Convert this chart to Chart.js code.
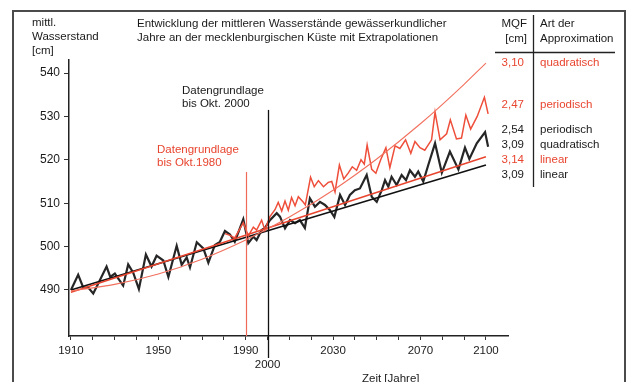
<!DOCTYPE html>
<html><head><meta charset="utf-8">
<script src="https://cdn.jsdelivr.net/npm/chart.js@4/dist/chart.umd.min.js"></script>
<style>html,body{margin:0;padding:0;background:#fff;overflow:hidden}</style>
</head><body>
<canvas id="c" width="635" height="382"></canvas>
<script>
// ---- data ----
const blackYears = [1910,1913.3,1915.6,1918,1920.2,1923,1926.3,1928,1930.1,1933.9,1936.2,1938.5,1941.1,1944.3,1946.9,1949.2,1952.3,1954.6,1958.4,1960.7,1963,1964.5,1967.6,1970.6,1972.9,1975.9,1978.2,1980.5,1982.8,1985,1988.9,1991.2,1993.5,1995,1997.3,1998.8,2001.1,2004.2,2005.7,2008,2010.3,2012.6,2014.8,2017.1,2019.4,2021.7,2024,2026.3,2028.6,2030.6,2033.2,2035.5,2037.7,2040,2042.3,2045.4,2047.7,2050,2052.3,2053.8,2055.3,2056.8,2059.1,2061.4,2063.4,2065.2,2067.5,2069,2071.3,2073.6,2076.7,2079.8,2083.5,2087.4,2090.4,2092.4,2095.8,2099.6,2101];
const blackValues = [490,493.5,490.6,490.5,489.2,492,495.4,493,493.8,491,495.9,494,490.2,498.2,495.4,497.9,496.8,493,500.2,495.8,497.5,495.2,501,499.6,496.3,500.4,501.1,503.6,502.8,501.1,506.3,500.8,502.3,501.5,503.8,504.3,506.1,507.7,506.9,504.2,506.1,505.4,506.1,504.3,511.1,509.2,510.3,509.6,508.4,506.8,511.9,509.6,511.9,513,513.4,516.5,511.5,510.3,513,515.3,513.8,516.1,514.2,516.5,515.3,517.6,516.1,517.3,515,518.8,523.8,517,521.9,517.8,522.8,520.2,523.8,526.4,523];

const redYears = [1980.5,1982.8,1985,1988.9,1991.2,1993.5,1995,1997.3,1998.8,2001.1,2003.4,2004.9,2006.5,2008,2009.5,2011,2012.6,2014.1,2016.4,2017.3,2019.7,2021.4,2023.3,2025.6,2027.8,2029.4,2030.9,2032.9,2034.9,2037,2038.8,2040.8,2042.8,2044.3,2045.6,2047.7,2049.6,2051.8,2054.2,2056,2058.4,2060.6,2063.2,2065.6,2067.5,2069.8,2072,2075.1,2076.7,2079,2082,2083.7,2086.5,2088.8,2090.8,2093,2096,2099.3,2101];
const redValues = [503,502.6,502,505.5,502.5,504.5,503.8,506.1,503.8,506.9,508.5,510.2,508.2,510.5,508.4,511.3,509.4,511.5,510.2,509.6,516,513.8,515.2,513.8,514.8,515,512.6,518.8,515.6,517,518.4,517.6,520,519,523.4,517.8,516.9,520,522.8,518.2,523.2,522.6,524.6,521.5,524.2,522.8,522.2,524.6,531,524.6,526,529.2,524.8,525,530.3,527.1,530,534.4,530.6];

const quadYears = [1910,1930,1950,1970,1990,2010,2030,2050,2070,2090,2100];
const quadValues = [489.8,491.3,493.7,497.1,501.5,506.8,513.0,520.2,528.3,537.4,542.3];

const redLinYears = [1910,2100];
const redLinValues = [489.5,520.7];
const blackLinYears = [1910,2100];
const blackLinValues = [490,518.8];

const xTickYears = [1910,1920,1930,1940,1950,1960,1970,1980,1990,2000,2010,2020,2030,2040,2050,2060,2070,2080,2090,2100];
const xTickLabels = [1910,1950,1990,2030,2070,2100];
const xLowLabels = [2000];
const yTicks = [490,500,510,520,530,540];

const titleLines = ['Entwicklung der mittleren Wasserstände gewässerkundlicher','Jahre an der mecklenburgischen Küste mit Extrapolationen'];
const yTitleLines = ['mittl.','Wasserstand','[cm]'];
const xTitle = 'Zeit [Jahre]';
const legendHeadMQF = ['MQF','[cm]'];
const legendHeadArt = ['Art der','Approximation'];
const legendMQF = ['3,10','2,47','2,54','3,09','3,14','3,09'];
const legendArt = ['quadratisch','periodisch','periodisch','quadratisch','linear','linear'];
const legendIsRed = [true,true,false,false,true,false];
const note2000 = ['Datengrundlage','bis Okt. 2000'];
const note1980 = ['Datengrundlage','bis Okt.1980'];
const cutYears = [1990, 2000];

// ---- styles / layout ----
const RED = '#e8452f';
const FONT = '"Liberation Sans", Arial, sans-serif';
const legendRowY = [63,105,130,145,160,175];

const pts = (xs, ys) => xs.map((x, i) => ({x: x, y: ys[i]}));

const decor = {
  id: 'decor',
  beforeDraw(chart) {
    const c = chart.ctx;
    c.save();
    c.fillStyle = '#fff';
    c.fillRect(0, 0, chart.width, chart.height);
    c.restore();
  },
  afterDatasetsDraw(chart) {
    const c = chart.ctx, xs = chart.scales.x, ys = chart.scales.y, a = chart.chartArea;
    c.save();
    const xr = Math.round(xs.getPixelForValue(cutYears[0])) + 0.5;
    c.strokeStyle = '#f06a5a'; c.lineWidth = 1.2;
    c.beginPath(); c.moveTo(xr, ys.getPixelForValue(517.2)); c.lineTo(xr, a.bottom); c.stroke();
    const xb = Math.round(xs.getPixelForValue(cutYears[1])) + 0.5;
    c.strokeStyle = '#111'; c.lineWidth = 1.3;
    c.beginPath(); c.moveTo(xb, ys.getPixelForValue(531.5)); c.lineTo(xb, a.bottom + 22); c.stroke();
    c.restore();
  },
  afterDraw(chart) {
    const c = chart.ctx;
    c.save();
    c.strokeStyle = '#4b4b4b'; c.lineWidth = 2;
    c.strokeRect(13, 11, 612, 400);
    c.textBaseline = 'middle';
    c.font = '11.5px ' + FONT;
    c.fillStyle = '#1a1a1a';
    c.textAlign = 'left';
    titleLines.forEach((t, i) => c.fillText(t, 137, 24 + i * 14));
    yTitleLines.forEach((t, i) => c.fillText(t, 32, 23 + i * 14));
    note2000.forEach((t, i) => c.fillText(t, 182, 91 + i * 13));
    c.fillStyle = RED;
    note1980.forEach((t, i) => c.fillText(t, 157, 150 + i * 13));
    c.fillStyle = '#1a1a1a';
    c.fillText(xTitle, 362, 379);
    c.textAlign = 'right';
    legendHeadMQF.forEach((t, i) => c.fillText(t, 527, 24 + i * 15));
    c.textAlign = 'left';
    legendHeadArt.forEach((t, i) => c.fillText(t, 540, 24 + i * 15));
    c.strokeStyle = '#222'; c.lineWidth = 1.3;
    c.beginPath(); c.moveTo(495, 52.5); c.lineTo(615, 52.5); c.stroke();
    c.beginPath(); c.moveTo(533.5, 15); c.lineTo(533.5, 187); c.stroke();
    legendMQF.forEach((t, i) => {
      c.fillStyle = legendIsRed[i] ? RED : '#1a1a1a';
      c.textAlign = 'right';
      c.fillText(t, 524, legendRowY[i]);
      c.textAlign = 'left';
      c.fillText(legendArt[i], 540, legendRowY[i]);
    });
    c.restore();
  }
};

new Chart(document.getElementById('c'), {
  type: 'line',
  data: {
    datasets: [
      {data: pts(quadYears, quadValues), borderColor: '#f2705e', borderWidth: 1.1, pointRadius: 0, cubicInterpolationMode: 'monotone'},
      {data: pts(redLinYears, redLinValues), borderColor: RED, borderWidth: 1.6, pointRadius: 0},
      {data: pts(redYears, redValues), borderColor: '#ee4e3a', borderWidth: 1.5, pointRadius: 0},
      {data: pts(blackLinYears, blackLinValues), borderColor: '#111', borderWidth: 1.6, pointRadius: 0},
      {data: pts(blackYears, blackValues), borderColor: '#262626', borderWidth: 2.2, pointRadius: 0}
    ]
  },
  options: {
    responsive: false,
    animation: false,
    events: [],
    layout: {padding: {top: 60, right: 127, left: 0, bottom: 0}},
    plugins: {legend: {display: false}, tooltip: {enabled: false}},
    scales: {
      x: {
        type: 'linear', min: 1909.1, max: 2110.1,
        afterBuildTicks: s => { s.ticks = xTickYears.map(v => ({value: v})); },
        afterFit: s => { s.height = 46; },
        ticks: {
          autoSkip: false, maxRotation: 0, color: '#1a1a1a', padding: 4,
          font: {size: 11.5, family: FONT},
          callback: v => xTickLabels.includes(v) ? String(v) : (xLowLabels.includes(v) ? ['', String(v)] : '')
        },
        grid: {drawOnChartArea: false, drawTicks: true, tickLength: 4, color: '#333'},
        border: {color: '#222', width: 1.5}
      },
      y: {
        min: 479.4, max: 543,
        afterBuildTicks: s => { s.ticks = yTicks.map(v => ({value: v})); },
        afterFit: s => { s.width = 69; },
        ticks: {color: '#1a1a1a', padding: 4, font: {size: 12, family: FONT}},
        grid: {drawOnChartArea: false, drawTicks: true, tickLength: 5, color: '#333'},
        border: {color: '#222', width: 1.5}
      }
    }
  },
  plugins: [decor]
});
</script>
</body></html>
